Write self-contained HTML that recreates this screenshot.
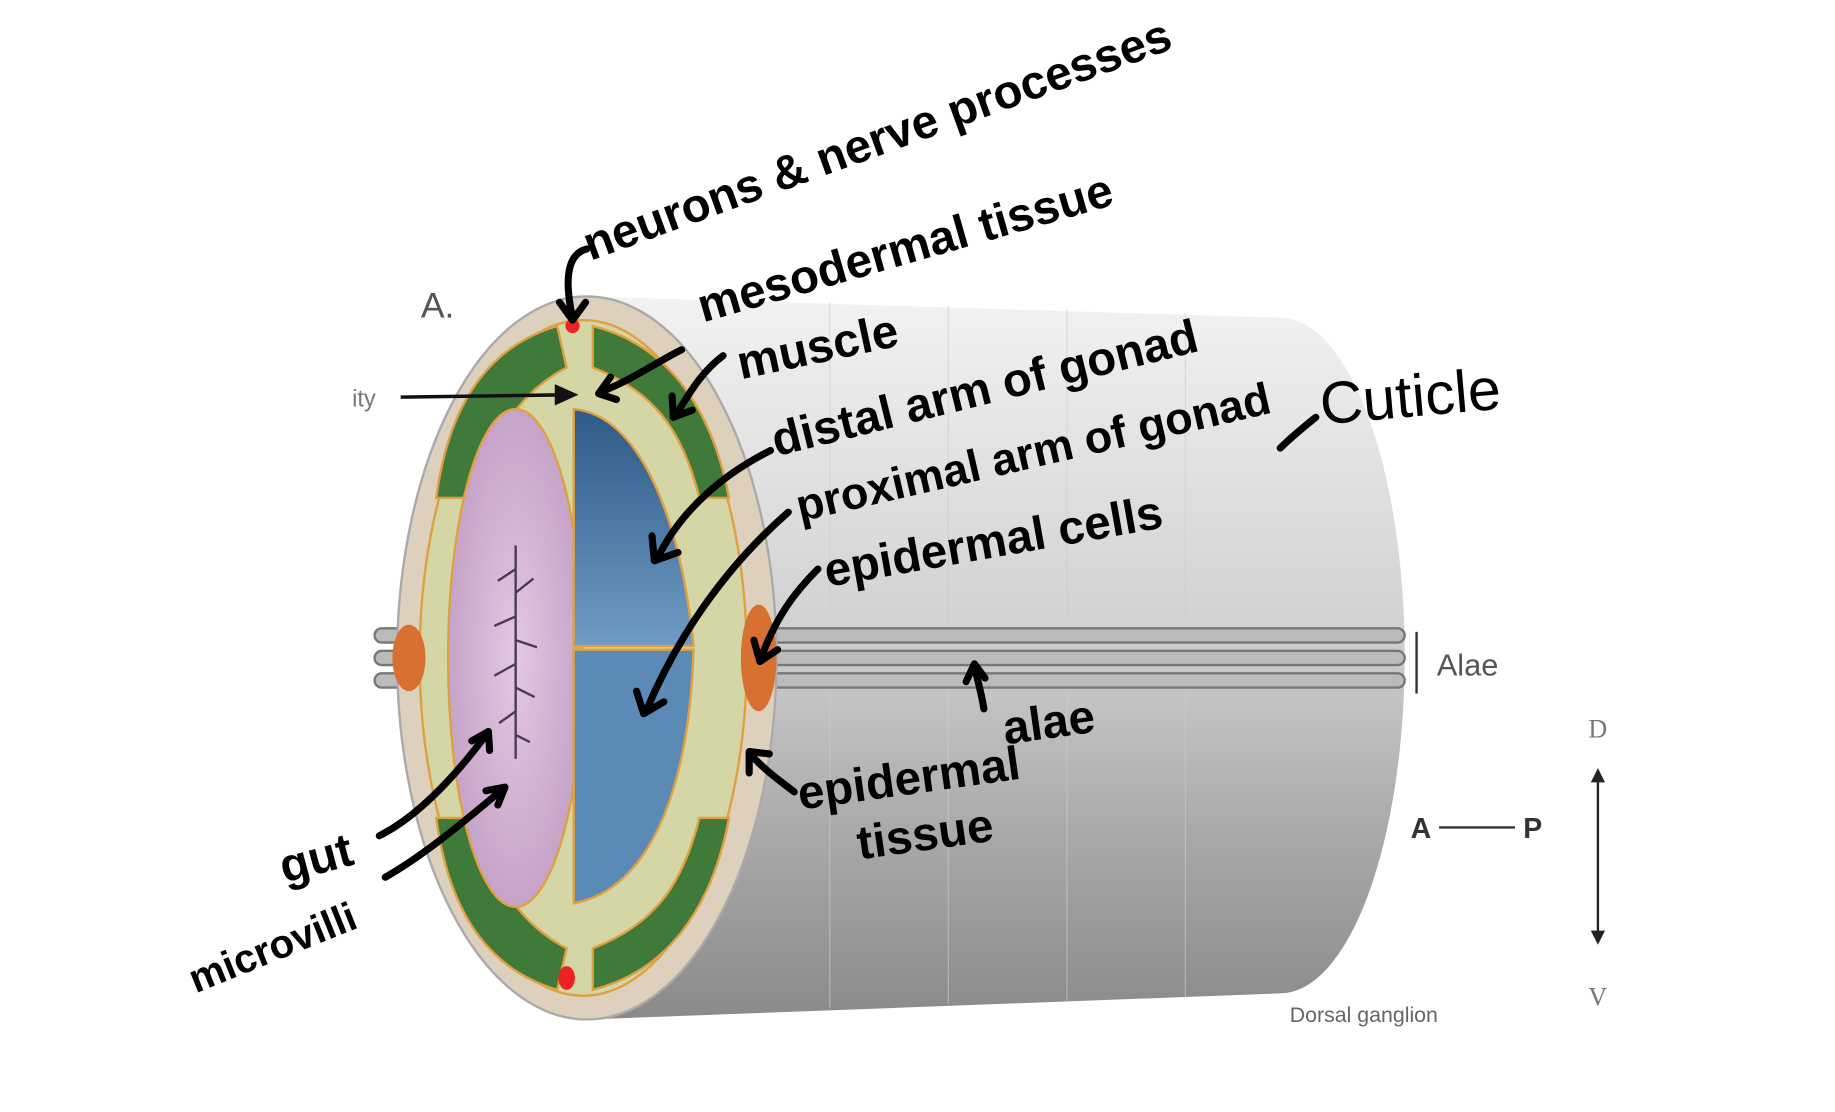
<!DOCTYPE html>
<html><head><style>
html,body{margin:0;padding:0;background:#fff;}
svg{display:block;}
.hw{font-family:"Liberation Sans",sans-serif;font-weight:bold;fill:#000;}
</style></head><body>
<svg width="1835" height="1112" viewBox="0 0 1548 938" xmlns="http://www.w3.org/2000/svg">
<defs>
<linearGradient id="body" x1="0" y1="0" x2="0" y2="1">
<stop offset="0" stop-color="#f2f2f2"/><stop offset="0.45" stop-color="#d2d2d2"/><stop offset="0.75" stop-color="#a8a8a8"/><stop offset="1" stop-color="#8a8a8a"/>
</linearGradient>
<radialGradient id="gut" cx="0.5" cy="0.5" r="0.6"><stop offset="0" stop-color="#e4c8e0"/><stop offset="1" stop-color="#c09cc4"/></radialGradient>
<linearGradient id="blue" x1="0" y1="0" x2="0" y2="1"><stop offset="0" stop-color="#2d5a86"/><stop offset="1" stop-color="#6e9cc4"/></linearGradient>
<marker id="ah" markerWidth="6" markerHeight="6" refX="3" refY="3" orient="auto"><path d="M0,0 L6,3 L0,6" fill="none" stroke="#000" stroke-width="1.5"/></marker>
</defs>
<!-- body -->
<path d="M495,250 L1080,268 A105,285 0 0 1 1080,838 L495,860 Z" fill="url(#body)"/>
<g stroke="#ccc" stroke-width="1" opacity="0.6">
<path d="M700,255 V850 M800,258 V847 M900,261 V844 M1000,264 V841"/>
</g>
<!-- alae -->
<g fill="#bbb" stroke="#777" stroke-width="2">
<rect x="650" y="530" width="535" height="12" rx="6"/>
<rect x="650" y="549" width="535" height="12" rx="6"/>
<rect x="650" y="568" width="535" height="12" rx="6"/>
<rect x="316" y="530" width="30" height="12" rx="6"/>
<rect x="316" y="549" width="30" height="12" rx="6"/>
<rect x="316" y="568" width="30" height="12" rx="6"/>
</g>
<!-- front face -->
<ellipse cx="495" cy="555" rx="160" ry="305" fill="#ddd0bd" stroke="#aaa" stroke-width="2"/>
<ellipse cx="492" cy="555" rx="138" ry="285" fill="#d4d6a6" stroke="#e0a040" stroke-width="2"/>
<!-- muscles -->
<g fill="#3f7a3a" stroke="#e0a040" stroke-width="2">
<path d="M470,275 C420,290 380,330 368,420 L400,420 C420,360 440,330 478,310 Z"/>
<path d="M500,275 C560,290 600,340 615,420 L590,420 C575,360 550,330 500,310 Z"/>
<path d="M368,690 C380,780 420,820 470,835 L478,800 C440,780 420,750 400,690 Z"/>
<path d="M615,690 C600,770 560,820 500,835 L500,800 C550,780 575,750 590,690 Z"/>
</g>
<circle cx="483" cy="275" r="6" fill="#e22"/>
<ellipse cx="478" cy="825" rx="7" ry="10" fill="#e22"/>
<ellipse cx="345" cy="555" rx="14" ry="28" fill="#d77030"/>
<ellipse cx="640" cy="555" rx="15" ry="45" fill="#d77030"/>
<!-- gut -->
<ellipse cx="435" cy="555" rx="57" ry="210" fill="url(#gut)" stroke="#e0a040" stroke-width="2"/>
<g stroke="#4a3a55" stroke-width="2" fill="none">
<path d="M435,460 V640 M435,480 l-15,10 M435,500 l15,-12 M435,520 l-18,8 M435,540 l18,6 M435,560 l-18,10 M435,580 l16,8 M435,600 l-14,10 M435,620 l12,6"/>
</g>
<!-- gonads -->
<path d="M484,345 C540,350 575,440 585,545 L484,545 Z" fill="url(#blue)" stroke="#e0a040" stroke-width="2"/>
<path d="M484,548 L585,548 C582,660 550,750 484,762 Z" fill="#5b8ab6" stroke="#e0a040" stroke-width="2"/>
<!-- printed labels -->
<text x="355" y="268" font-family="Liberation Sans,sans-serif" font-size="30" fill="#555">A.</text>
<text x="297" y="343" font-family="Liberation Sans,sans-serif" font-size="20" fill="#777">ity</text>
<path d="M338,335 L478,333" stroke="#111" stroke-width="3"/><path d="M468,324 L488,333 L468,342 Z" fill="#111"/>
<text x="1212" y="570" font-family="Liberation Sans,sans-serif" font-size="26" fill="#555">Alae</text>
<path d="M1195,533 V585" stroke="#333" stroke-width="2"/>
<text x="1340" y="622" font-family="Liberation Serif,serif" font-size="22" fill="#777">D</text>
<text x="1340" y="848" font-family="Liberation Serif,serif" font-size="22" fill="#777">V</text>
<path d="M1348,650 V795" stroke="#222" stroke-width="2"/>
<path d="M1342,660 L1348,648 L1354,660 Z M1342,785 L1348,797 L1354,785 Z" fill="#222"/>
<text x="1190" y="707" font-family="Liberation Sans,sans-serif" font-weight="bold" font-size="24" fill="#333">A</text>
<text x="1285" y="707" font-family="Liberation Sans,sans-serif" font-weight="bold" font-size="24" fill="#333">P</text>
<path d="M1214,698 H1278" stroke="#333" stroke-width="2"/>
<text x="1088" y="862" font-family="Liberation Sans,sans-serif" font-size="18" fill="#666">Dorsal ganglion</text>
<!-- handwritten annotations -->
<g stroke="#000" stroke-width="6" fill="none" stroke-linecap="round" stroke-linejoin="round">
<path d="M495,210 C475,215 478,245 483,268 M472,255 L483,270 L494,255"/>
<path d="M575,295 C555,305 530,322 508,330 M515,318 L505,332 L520,337"/>
<path d="M610,300 C590,315 580,335 570,350 M567,334 L568,352 L584,346"/>
<path d="M650,380 C610,400 575,430 555,470 M550,452 L552,473 L572,466"/>
<path d="M665,432 C610,480 570,540 545,600 M537,583 L543,602 L560,592"/>
<path d="M690,480 C670,500 655,520 642,555 M636,540 L641,558 L656,548"/>
<path d="M1110,352 C1100,360 1090,368 1080,378"/>
<path d="M830,598 C828,585 825,575 822,562 M815,575 L822,560 L831,572"/>
<path d="M670,668 C660,660 645,650 632,635 M632,652 L632,634 L649,636"/>
<path d="M320,705 C350,690 380,660 410,620 M398,625 L412,617 L413,633"/>
<path d="M325,740 C360,720 395,690 425,665 M410,667 L426,664 L420,679"/>
</g>
<g class="hw" font-size="40">
<text transform="translate(498,220) rotate(-20)">neurons &amp; nerve processes</text>
<text transform="translate(593,272) rotate(-16)">mesodermal tissue</text>
<text transform="translate(625,320) rotate(-12)">muscle</text>
<text transform="translate(655,385) rotate(-14)">distal arm of gonad</text>
<text transform="translate(675,440) rotate(-13)" font-size="38">proximal arm of gonad</text>
<text transform="translate(698,495) rotate(-10)">epidermal cells</text>
<text transform="translate(1115,358) rotate(-5)" font-size="50" font-weight="normal">Cuticle</text>
<text transform="translate(848,628) rotate(-8)">alae</text>
<text transform="translate(675,683) rotate(-8)">epidermal</text>
<text transform="translate(725,725) rotate(-8)">tissue</text>
<text transform="translate(240,745) rotate(-15)">gut</text>
<text transform="translate(165,838) rotate(-22)" font-size="34">microvilli</text>
</g>
</svg>
</body></html>
